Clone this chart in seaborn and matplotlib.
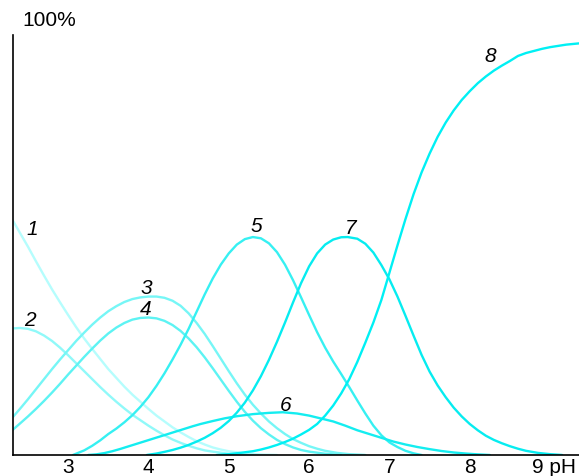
import matplotlib
matplotlib.use("Agg")
import matplotlib.pyplot as plt
from matplotlib.transforms import ScaledTranslation
import seaborn as sns
import pandas as pd

# ---- data (pH, percent) ----
ph1 = [2.31, 2.4, 2.5, 2.6, 2.7, 2.8, 2.9, 3.0, 3.1, 3.2, 3.3, 3.4, 3.5, 3.6, 3.7, 3.8,
       3.9, 4.0, 4.1, 4.2, 4.3, 4.4, 4.5, 4.6, 4.7, 4.8, 4.9, 5.0, 5.2, 5.4, 5.6]
v1 = [56.0, 53.0, 49.7, 46.2, 42.8, 39.5, 36.4, 33.4, 30.5, 27.8, 25.3, 22.9, 20.5, 18.4,
      16.3, 14.4, 12.7, 11.0, 9.4, 8.0, 6.6, 5.4, 4.3, 3.3, 2.5, 1.8, 1.3, 0.9, 0.4, 0.1, 0.0]

ph2 = [2.31, 2.4, 2.5, 2.6, 2.7, 2.8, 2.9, 3.0, 3.1, 3.2, 3.3, 3.4, 3.5, 3.6, 3.7, 3.8,
       3.9, 4.0, 4.1, 4.2, 4.3, 4.4, 4.5, 4.6, 4.7, 4.8, 5.0, 5.3]
v2 = [30.2, 30.3, 30.1, 29.5, 28.5, 27.2, 25.6, 23.8, 21.9, 20.0, 18.1, 16.2, 14.4, 12.7,
      11.1, 9.6, 8.3, 7.0, 5.8, 4.7, 3.7, 2.9, 2.2, 1.6, 1.1, 0.8, 0.3, 0.0]

ph3 = [2.31, 2.4, 2.5, 2.6, 2.7, 2.8, 2.9, 3.0, 3.1, 3.2, 3.3, 3.4, 3.5, 3.6, 3.7, 3.8,
       3.9, 4.0, 4.1, 4.2, 4.3, 4.4, 4.5, 4.6, 4.7, 4.8, 4.9, 5.0, 5.1, 5.2, 5.3, 5.4,
       5.5, 5.6, 5.7, 5.8, 5.9, 6.0, 6.1, 6.2, 6.35, 6.5, 6.7]
v3 = [9.0, 11.0, 13.3, 15.7, 18.1, 20.5, 22.8, 25.0, 27.2, 29.2, 31.1, 32.8, 34.3, 35.5,
      36.5, 37.2, 37.6, 37.8, 37.8, 37.5, 36.8, 35.6, 33.8, 31.5, 28.9, 26.0, 23.0, 20.0,
      17.1, 14.4, 12.0, 9.9, 8.0, 6.4, 5.0, 3.8, 2.9, 2.1, 1.5, 1.0, 0.5, 0.2, 0.0]

ph4 = [2.31, 2.4, 2.5, 2.6, 2.7, 2.8, 2.9, 3.0, 3.1, 3.2, 3.3, 3.4, 3.5, 3.6, 3.7, 3.8,
       3.9, 4.0, 4.1, 4.2, 4.3, 4.4, 4.5, 4.6, 4.7, 4.8, 4.9, 5.0, 5.1, 5.2, 5.3, 5.4,
       5.5, 5.6, 5.7, 5.8, 5.9, 6.0, 6.2, 6.4]
v4 = [6.0, 7.5, 9.2, 11.0, 12.9, 14.9, 17.0, 19.2, 21.3, 23.4, 25.4, 27.3, 29.0, 30.4,
      31.5, 32.3, 32.7, 32.8, 32.6, 32.0, 31.0, 29.6, 27.8, 25.7, 23.3, 20.7, 18.0, 15.3,
      12.7, 10.3, 8.2, 6.4, 4.9, 3.6, 2.6, 1.8, 1.2, 0.8, 0.3, 0.0]

ph5 = [3.06, 3.2, 3.3, 3.4, 3.5, 3.6, 3.7, 3.8, 3.9, 4.0, 4.1, 4.2, 4.3, 4.4, 4.5, 4.6,
       4.7, 4.8, 4.9, 5.0, 5.1, 5.2, 5.3, 5.4, 5.5, 5.6, 5.7, 5.8, 5.9, 6.0, 6.1, 6.2,
       6.3, 6.4, 6.5, 6.6, 6.7, 6.8, 6.9, 7.0, 7.1, 7.2, 7.3, 7.4]
v5 = [0.0, 1.1, 2.2, 3.5, 5.0, 6.3, 7.8, 9.5, 11.5, 13.8, 16.5, 19.5, 22.8, 26.3, 30.1,
      34.2, 38.3, 42.1, 45.4, 48.1, 50.2, 51.5, 52.0, 51.7, 50.5, 48.4, 45.4, 41.7, 37.6,
      33.4, 29.3, 25.6, 22.3, 19.3, 16.2, 13.0, 9.9, 7.0, 4.7, 3.0, 1.9, 1.0, 0.4, 0.0]

ph6 = [3.25, 3.35, 3.45, 3.55, 3.65, 3.75, 3.85, 3.95, 4.05, 4.15, 4.25, 4.35, 4.45,
       4.55, 4.65, 4.8, 4.95, 5.1, 5.3, 5.5, 5.67, 5.85, 6.0, 6.15, 6.3, 6.45, 6.6, 6.75,
       6.9, 7.05, 7.2, 7.35, 7.5, 7.65, 7.8, 7.95, 8.1, 8.25]
v6 = [0.0, 0.15, 0.45, 0.9, 1.45, 2.05, 2.65, 3.25, 3.85, 4.45, 5.05, 5.65, 6.25, 6.85,
      7.4, 8.1, 8.75, 9.25, 9.75, 10.05, 10.2, 9.9, 9.4, 8.7, 8.0, 7.0, 5.9, 5.0, 4.1,
      3.2, 2.5, 1.9, 1.4, 0.95, 0.6, 0.35, 0.15, 0.0]

ph7 = [3.98, 4.1, 4.2, 4.3, 4.4, 4.5, 4.6, 4.7, 4.8, 4.9, 5.0, 5.1, 5.2, 5.3, 5.4, 5.5,
       5.6, 5.7, 5.8, 5.9, 6.0, 6.1, 6.2, 6.3, 6.4, 6.48, 6.6, 6.7, 6.8, 6.9, 7.0, 7.1,
       7.2, 7.3, 7.4, 7.5, 7.6, 7.7, 7.8, 7.9, 8.0, 8.1, 8.2, 8.3, 8.4, 8.5, 8.6, 8.7,
       8.85, 9.0, 9.15]
v7 = [0.0, 0.35, 0.75, 1.2, 1.75, 2.4, 3.2, 4.1, 5.2, 6.5, 8.1, 10.1, 12.5, 15.4, 18.8,
      22.7, 27.0, 31.6, 36.4, 41.0, 45.0, 48.1, 50.2, 51.4, 51.95, 52.0, 51.6, 50.4, 48.3,
      45.3, 41.9, 37.8, 33.2, 28.5, 23.9, 19.9, 16.6, 13.8, 11.3, 9.2, 7.4, 5.9, 4.6,
      3.6, 2.8, 2.1, 1.5, 1.0, 0.5, 0.2, 0.0]

ph8 = [4.85, 5.0, 5.14, 5.3, 5.4, 5.5, 5.6, 5.7, 5.8, 5.9, 6.0, 6.1, 6.2, 6.3, 6.4, 6.5,
       6.6, 6.7, 6.8, 6.9, 7.0, 7.1, 7.2, 7.3, 7.4, 7.5, 7.6, 7.7, 7.8, 7.9, 8.0, 8.1,
       8.2, 8.3, 8.4, 8.5, 8.6, 8.7, 8.8, 8.9, 9.0, 9.1, 9.2, 9.36]
v8 = [0.0, 0.2, 0.5, 0.9, 1.3, 1.8, 2.4, 3.1, 3.9, 4.9, 6.0, 7.4, 9.4, 11.8, 14.7, 18.1,
      22.2, 26.8, 31.6, 37.0, 43.5, 50.0, 56.3, 62.2, 67.4, 71.9, 75.9, 79.3, 82.2, 84.7,
      86.8, 88.7, 90.3, 91.7, 92.9, 94.0, 95.2, 95.9, 96.4, 96.9, 97.3, 97.6, 97.9, 98.2]

curve_names = ["1", "2", "3", "4", "5", "6", "7", "8"]
xticks = [3, 4, 5, 6, 7, 8, 9]
xtick_labels = ["3", "4", "5", "6", "7", "8", "9 pH"]

# label anchor positions (pH, %)
label_ph = [2.55, 2.53, 3.97, 3.97, 5.34, 5.71, 6.52, 8.26]
label_v = [53.8, 32.1, 39.8, 34.8, 54.5, 11.9, 54.0, 95.0]

colors = ["#b5fdfd", "#90f9f9", "#76f6f6", "#5df3f3", "#36f0f2", "#14edf0", "#06ecf0",
          "#00f0f4"]

# ---- build table ----
all_ph = [ph1, ph2, ph3, ph4, ph5, ph6, ph7, ph8]
all_v = [v1, v2, v3, v4, v5, v6, v7, v8]
rows = []
for name, xs, ys in zip(curve_names, all_ph, all_v):
    for x, y in zip(xs, ys):
        rows.append({"curve": name, "pH": x, "pct": y})
df = pd.DataFrame(rows)

sns.set_theme(style="white")
plt.rcParams["font.family"] = ["Liberation Sans", "DejaVu Sans"]

fig = plt.figure(figsize=(5.79, 4.76), dpi=100)
ax = fig.add_axes([12.7 / 579, 21 / 476, 1 - 12.7 / 579, 420 / 476])

sns.lineplot(data=df, x="pH", y="pct", hue="curve", hue_order=curve_names,
             palette=dict(zip(curve_names, colors)), linewidth=1.7,
             legend=False, ax=ax, sort=True, estimator=None)

for name, lx, ly in zip(curve_names, label_ph, label_v):
    ax.text(lx, ly, name, fontsize=15, fontstyle="italic", ha="center", va="center",
            color="black")

ax.set_xlim(2.31, 9.36)
ax.set_ylim(0, 100.2)
ax.set_xticks(xticks)
ax.set_xticklabels(xtick_labels)
ax.set_yticks([])
ax.set_xlabel("")
ax.set_ylabel("")
ax.tick_params(axis="x", length=0, pad=2, labelsize=15, colors="black")
last = ax.get_xticklabels()[-1]
last.set_transform(last.get_transform() + ScaledTranslation(4 / 100, 0, fig.dpi_scale_trans))
for s in ["top", "right"]:
    ax.spines[s].set_visible(False)
for s in ["left", "bottom"]:
    ax.spines[s].set_color("black")
    ax.spines[s].set_linewidth(1.2)

fig.text(22 / 579, 1 - 20 / 476, "100%", fontsize=15, ha="left", va="center", color="black")

fig.savefig("out.png", dpi=100)
